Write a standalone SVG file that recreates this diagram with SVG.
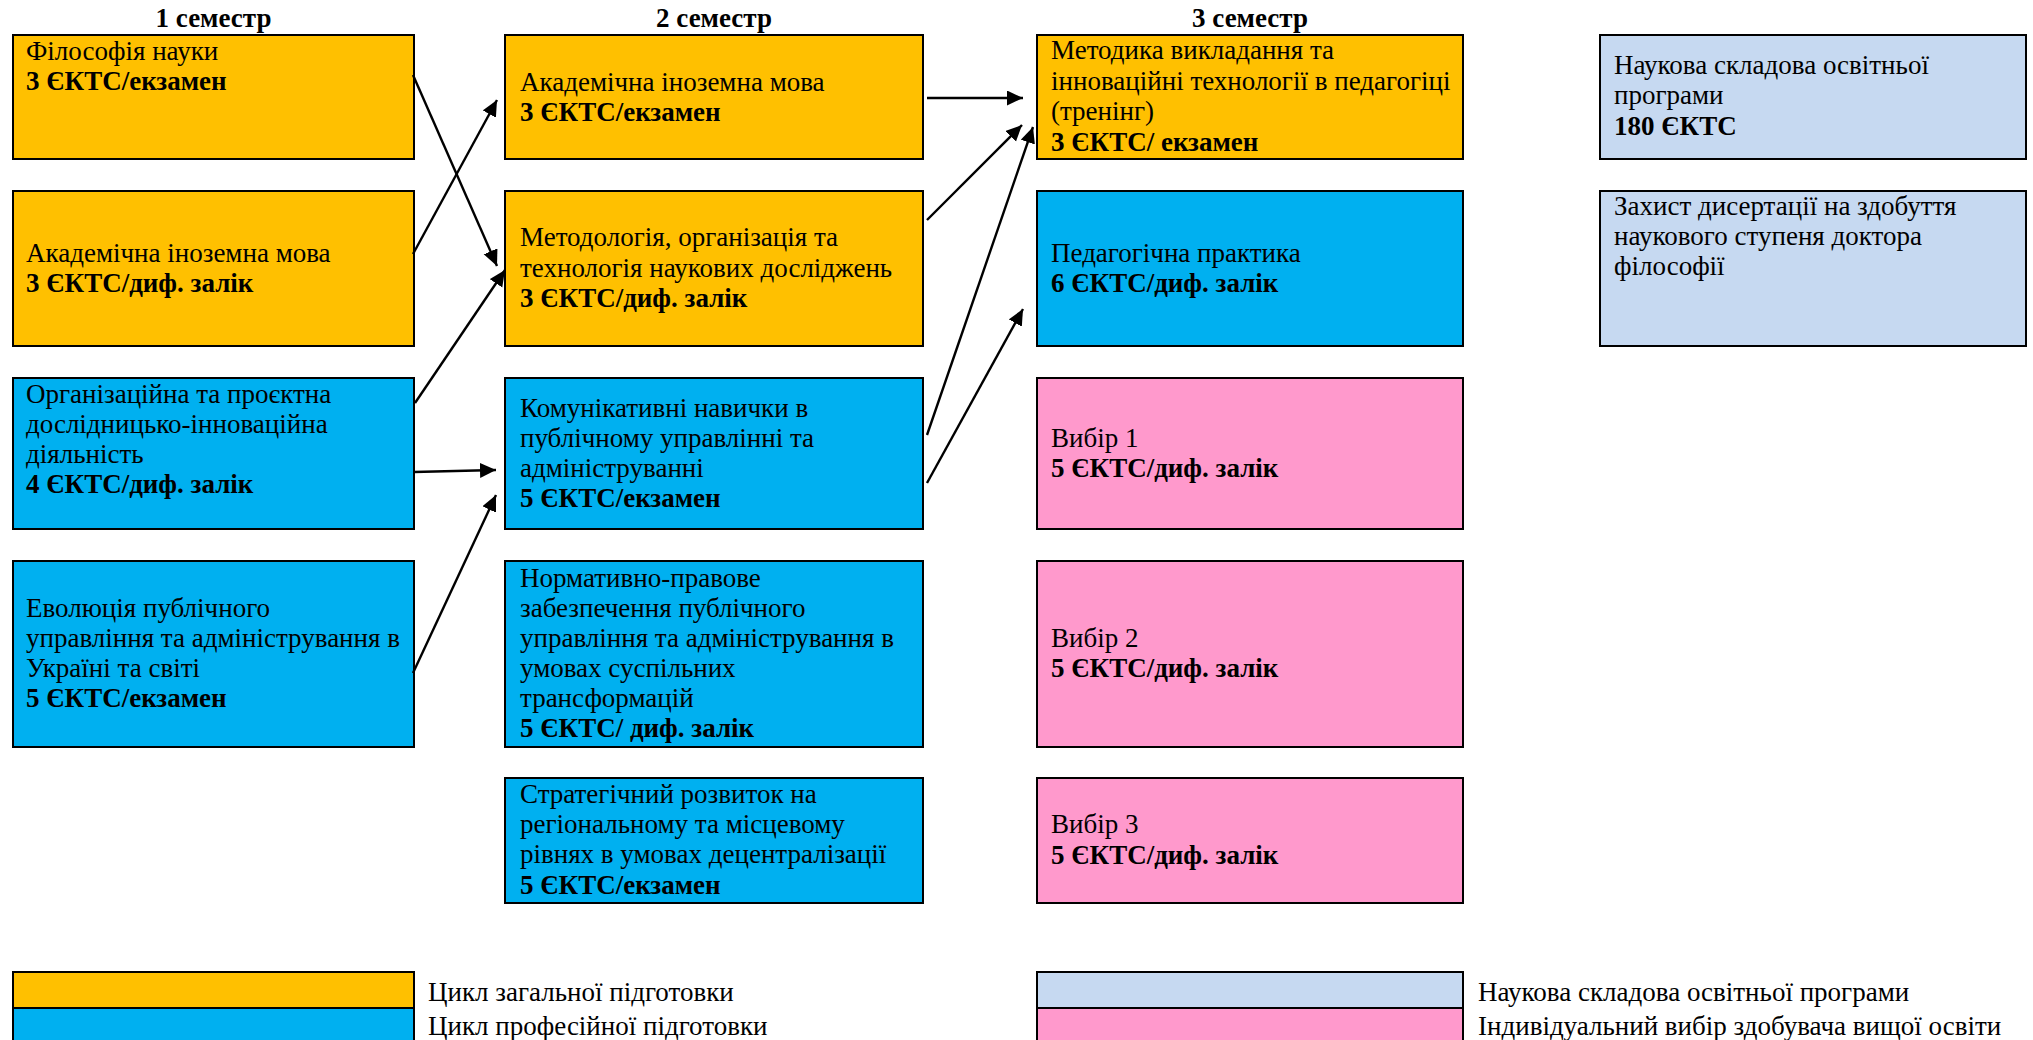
<svg xmlns="http://www.w3.org/2000/svg" width="2033" height="1040" viewBox="0 0 2033 1040">
<style>
text{font-family:"Liberation Serif","Times New Roman","DejaVu Serif",serif;font-size:27px;fill:#000}
.b{font-weight:bold}
.h{font-weight:bold;text-anchor:middle}
.n{stroke:#000;stroke-width:2}
.y{fill:#FFC000}
.c{fill:#00B0F0}
.p{fill:#FF99CC}
.l{fill:#C6D9F1}
.ar{stroke:#000;stroke-width:2.4;fill:none;marker-end:url(#ah)}
</style>
<defs>
<marker id="ah" markerUnits="userSpaceOnUse" markerWidth="18" markerHeight="16" refX="16" refY="7.5" orient="auto">
<path d="M0,0 L16,7.5 L0,15 z" fill="#000"/>
</marker>
</defs>
<rect x="0" y="0" width="2033" height="1040" fill="#fff"/>
<g id="headers">
<text class="h" x="213.5" y="27">1 семестр</text>
<text class="h" x="714" y="27">2 семестр</text>
<text class="h" x="1250" y="27">3 семестр</text>
</g>
<g id="n-filosofia">
<rect class="n y" x="13" y="35" width="401" height="124"/>
<text x="26" y="60">Філософія науки</text>
<text class="b" x="26" y="90">3 ЄКТС/екзамен</text>
</g>
<g id="n-mova1">
<rect class="n y" x="13" y="191" width="401" height="155"/>
<text x="26" y="262">Академічна іноземна мова</text>
<text class="b" x="26" y="292">3 ЄКТС/диф. залік</text>
</g>
<g id="n-orh">
<rect class="n c" x="13" y="378" width="401" height="151"/>
<text x="26" y="403">Організаційна та проєктна</text>
<text x="26" y="433">дослідницько-інноваційна</text>
<text x="26" y="463">діяльність</text>
<text class="b" x="26" y="493">4 ЄКТС/диф. залік</text>
</g>
<g id="n-evol">
<rect class="n c" x="13" y="561" width="401" height="186"/>
<text x="26" y="617">Еволюція публічного</text>
<text x="26" y="647">управління та адміністрування в</text>
<text x="26" y="677">Україні та світі</text>
<text class="b" x="26" y="707">5 ЄКТС/екзамен</text>
</g>
<g id="n-mova2">
<rect class="n y" x="505" y="35" width="418" height="124"/>
<text x="520" y="91">Академічна іноземна мова</text>
<text class="b" x="520" y="121">3 ЄКТС/екзамен</text>
</g>
<g id="n-metod">
<rect class="n y" x="505" y="191" width="418" height="155"/>
<text x="520" y="246">Методологія, організація та</text>
<text x="520" y="277">технологія наукових досліджень</text>
<text class="b" x="520" y="307">3 ЄКТС/диф. залік</text>
</g>
<g id="n-komun">
<rect class="n c" x="505" y="378" width="418" height="151"/>
<text x="520" y="417">Комунікативні навички в</text>
<text x="520" y="447">публічному управлінні та</text>
<text x="520" y="477">адмініструванні</text>
<text class="b" x="520" y="507">5 ЄКТС/екзамен</text>
</g>
<g id="n-norm">
<rect class="n c" x="505" y="561" width="418" height="186"/>
<text x="520" y="587">Нормативно-правове</text>
<text x="520" y="617">забезпечення публічного</text>
<text x="520" y="647">управління та адміністрування в</text>
<text x="520" y="677">умовах суспільних</text>
<text x="520" y="707">трансформацій</text>
<text class="b" x="520" y="737">5 ЄКТС/ диф. залік</text>
</g>
<g id="n-strat">
<rect class="n c" x="505" y="778" width="418" height="125"/>
<text x="520" y="803">Стратегічний розвиток на</text>
<text x="520" y="833">регіональному та місцевому</text>
<text x="520" y="863">рівнях в умовах децентралізації</text>
<text class="b" x="520" y="894">5 ЄКТС/екзамен</text>
</g>
<g id="n-metodyka">
<rect class="n y" x="1037" y="35" width="426" height="124"/>
<text x="1051" y="59">Методика викладання та</text>
<text x="1051" y="90">інноваційні технології в педагогіці</text>
<text x="1051" y="120">(тренінг)</text>
<text class="b" x="1051" y="151">3 ЄКТС/ екзамен</text>
</g>
<g id="n-prakt">
<rect class="n c" x="1037" y="191" width="426" height="155"/>
<text x="1051" y="262">Педагогічна практика</text>
<text class="b" x="1051" y="292">6 ЄКТС/диф. залік</text>
</g>
<g id="n-vybir1">
<rect class="n p" x="1037" y="378" width="426" height="151"/>
<text x="1051" y="447">Вибір 1</text>
<text class="b" x="1051" y="477">5 ЄКТС/диф. залік</text>
</g>
<g id="n-vybir2">
<rect class="n p" x="1037" y="561" width="426" height="186"/>
<text x="1051" y="647">Вибір 2</text>
<text class="b" x="1051" y="677">5 ЄКТС/диф. залік</text>
</g>
<g id="n-vybir3">
<rect class="n p" x="1037" y="778" width="426" height="125"/>
<text x="1051" y="833">Вибір 3</text>
<text class="b" x="1051" y="864">5 ЄКТС/диф. залік</text>
</g>
<g id="n-naukova">
<rect class="n l" x="1600" y="35" width="426" height="124"/>
<text x="1614" y="74">Наукова складова освітньої</text>
<text x="1614" y="104">програми</text>
<text class="b" x="1614" y="135">180 ЄКТС</text>
</g>
<g id="n-zakhyst">
<rect class="n l" x="1600" y="191" width="426" height="155"/>
<text x="1614" y="215">Захист дисертації на здобуття</text>
<text x="1614" y="245">наукового ступеня доктора</text>
<text x="1614" y="275">філософії</text>
</g>
<g id="connectors">
<line class="ar" x1="413" y1="75" x2="497" y2="266"/>
<line class="ar" x1="413" y1="254" x2="497" y2="100"/>
<line class="ar" x1="415" y1="403" x2="505" y2="270"/>
<line class="ar" x1="414" y1="472" x2="496" y2="470"/>
<line class="ar" x1="413" y1="673" x2="496" y2="495"/>
<line class="ar" x1="927" y1="98" x2="1023" y2="98"/>
<line class="ar" x1="927" y1="220" x2="1022" y2="125"/>
<line class="ar" x1="927" y1="435" x2="1033" y2="127"/>
<line class="ar" x1="927" y1="483" x2="1023" y2="309"/>
</g>
<g id="legend">
<rect class="n y" x="13" y="972" width="401" height="36"/>
<rect class="n c" x="13" y="1008" width="401" height="36"/>
<text x="428" y="1001">Цикл загальної підготовки</text>
<text x="428" y="1035">Цикл професійної підготовки</text>
<rect class="n l" x="1037" y="972" width="426" height="36"/>
<rect class="n p" x="1037" y="1008" width="426" height="36"/>
<text x="1478" y="1001">Наукова складова освітньої програми</text>
<text x="1478" y="1035">Індивідуальний вибір здобувача вищої освіти</text>
</g>
</svg>
